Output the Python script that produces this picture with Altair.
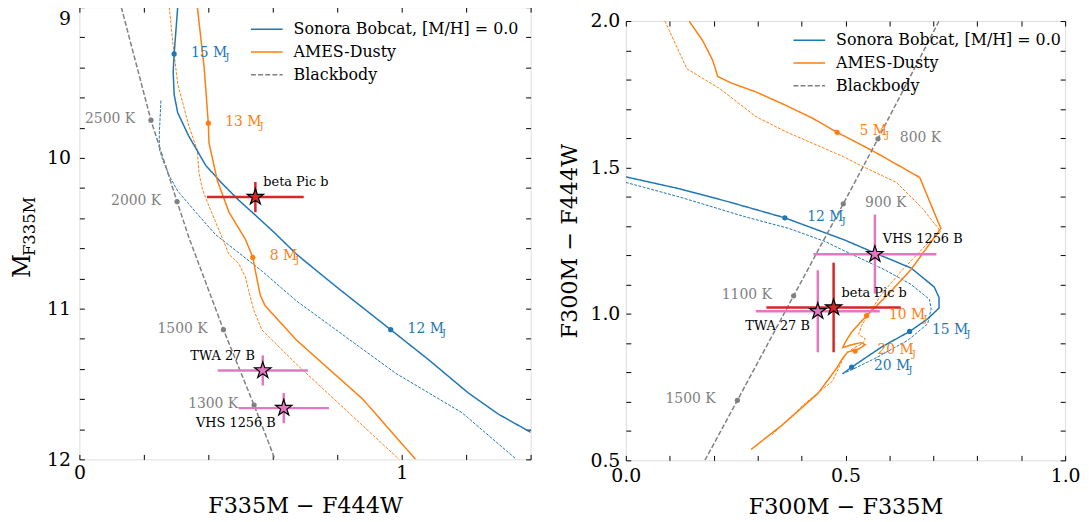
import math
import altair as alt
import pandas as pd

FONT = "DejaVu Serif"
C_SON, C_AMES, C_BB = "#1f77b4", "#ff7f0e", "#808080"
C_RED, C_PINK = "#d62728", "#e377c2"
SON, AMES, BB = "Sonora Bobcat, [M/H] = 0.0", "AMES-Dusty", "Blackbody"
MODELS = [SON, AMES, BB]
COLOR = {SON: C_SON, AMES: C_AMES, BB: C_BB, SON + " alt": C_SON, AMES + " alt": C_AMES}

# ---------------- left panel: F335M - F444W  vs  M_F335M ----------------
L_SON_X = [0.305, 0.294, 0.291, 0.294, 0.305, 0.338, 0.392, 0.443, 0.494, 0.546, 0.607, 0.674, 0.80, 0.966, 1.084, 1.207, 1.30, 1.40]
L_SON_Y = [9.00, 9.31, 9.43, 9.58, 9.70, 9.85, 10.05, 10.17, 10.28, 10.38, 10.50, 10.64, 10.86, 11.14, 11.34, 11.56, 11.70, 11.82]
L_SON2_X = [0.253, 0.248, 0.248, 0.258, 0.279, 0.305, 0.361, 0.423, 0.566, 0.674, 0.982, 1.187, 1.356]
L_SON2_Y = [9.62, 9.84, 9.94, 10.01, 10.12, 10.22, 10.36, 10.51, 10.75, 10.95, 11.43, 11.69, 12.00]
L_AMES_X = [0.366, 0.387, 0.400, 0.402, 0.428, 0.464, 0.515, 0.538, 0.546, 0.561, 0.576, 0.674, 0.879, 1.043]
L_AMES_Y = [9.00, 9.40, 9.77, 9.90, 10.15, 10.36, 10.54, 10.66, 10.75, 10.91, 10.98, 11.21, 11.60, 12.00]
L_AMES2_X = [0.279, 0.289, 0.305, 0.340, 0.366, 0.371, 0.382, 0.402, 0.443, 0.464, 0.494, 0.515, 0.525, 0.541, 0.566, 0.674, 1.002]
L_AMES2_Y = [9.00, 9.22, 9.51, 9.79, 9.95, 10.10, 10.21, 10.32, 10.53, 10.64, 10.70, 10.79, 10.88, 11.01, 11.14, 11.37, 12.02]
L_BB_X = [0.130, 0.222, 0.303, 0.340, 0.447, 0.542, 0.607]
L_BB_Y = [9.00, 9.75, 10.29, 10.53, 11.14, 11.64, 12.00]

L_SON_MASS, L_SON_MX, L_SON_MY = ["15", "12"], [0.294, 0.966], [9.31, 11.14]
L_AMES_MASS, L_AMES_MX, L_AMES_MY = ["13", "8"], [0.400, 0.538], [9.77, 10.66]
L_BB_T, L_BB_TX, L_BB_TY = ["2500 K", "2000 K", "1500 K", "1300 K"], [0.222, 0.303, 0.447, 0.542], [9.75, 10.29, 11.14, 11.64]

OBJ_NAMES = ["beta Pic b", "TWA 27 B", "VHS 1256 B"]
L_OBJ_X, L_OBJ_Y = [0.546, 0.569, 0.634], [10.26, 11.41, 11.66]
L_OBJ_XERR, L_OBJ_YERR = [0.15, 0.14, 0.14], [0.10, 0.10, 0.10]

# ---------------- right panel: F300M - F335M  vs  F300M - F444W ----------------
R_SON_X = [0.0, 0.123, 0.236, 0.362, 0.497, 0.567, 0.649, 0.702, 0.713, 0.713, 0.687, 0.646, 0.582, 0.514, 0.493]
R_SON_Y = [1.468, 1.427, 1.382, 1.328, 1.253, 1.208, 1.157, 1.092, 1.056, 1.020, 0.983, 0.940, 0.887, 0.818, 0.795]
R_SON2_X = [0.0, 0.123, 0.273, 0.371, 0.454, 0.491, 0.589, 0.649, 0.691, 0.695, 0.687, 0.642, 0.567, 0.514, 0.500]
R_SON2_Y = [1.449, 1.399, 1.331, 1.292, 1.247, 1.220, 1.151, 1.101, 1.050, 1.017, 0.966, 0.910, 0.848, 0.809, 0.800]
R_AMES_X = [0.144, 0.175, 0.198, 0.209, 0.239, 0.296, 0.363, 0.424, 0.481, 0.563, 0.669, 0.717, 0.649, 0.597, 0.548, 0.514,
            0.500, 0.494, 0.510, 0.535, 0.545, 0.530, 0.505, 0.494, 0.480, 0.437, 0.357, 0.285]
R_AMES_Y = [2.000, 1.933, 1.865, 1.811, 1.789, 1.758, 1.713, 1.669, 1.620, 1.556, 1.466, 1.292, 1.151, 1.067, 0.994, 0.938,
            0.905, 0.885, 0.893, 0.902, 0.895, 0.880, 0.870, 0.850, 0.815, 0.728, 0.622, 0.537]
R_AMES2_X = [0.089, 0.139, 0.213, 0.296, 0.363, 0.495, 0.529, 0.616, 0.676, 0.717, 0.683, 0.627, 0.582, 0.555, 0.537, 0.530,
             0.545, 0.540, 0.515, 0.499, 0.470, 0.409, 0.333]
R_AMES2_Y = [2.000, 1.837, 1.770, 1.674, 1.623, 1.537, 1.511, 1.449, 1.359, 1.281, 1.235, 1.146, 1.067, 1.005, 0.961, 0.930,
             0.915, 0.900, 0.880, 0.860, 0.770, 0.696, 0.588]
R_BB_X = [0.180, 0.254, 0.382, 0.495, 0.574, 0.713]
R_BB_Y = [0.500, 0.705, 1.062, 1.376, 1.598, 2.000]

R_SON_MASS, R_SON_MX, R_SON_MY = ["12", "15", "20"], [0.362, 0.646, 0.514], [1.328, 0.940, 0.818]
R_AMES_MASS, R_AMES_MX, R_AMES_MY = ["5", "10", "20"], [0.481, 0.548, 0.522], [1.620, 0.994, 0.873]
R_BB_T, R_BB_TX, R_BB_TY = ["800 K", "900 K", "1100 K", "1500 K"], [0.574, 0.495, 0.382, 0.254], [1.598, 1.376, 1.062, 0.705]

R_OBJ_X, R_OBJ_Y = [0.473, 0.437, 0.567], [1.022, 1.009, 1.204]
R_OBJ_XERR, R_OBJ_YERR = [0.153, 0.141, 0.140], [0.153, 0.140, 0.135]

# ---------------- styling ----------------
OBJ_COLOR = {"beta Pic b": C_RED, "TWA 27 B": C_PINK, "VHS 1256 B": C_PINK}
L_OBJ_PLACE = {"beta Pic b": "ur", "TWA 27 B": "ul", "VHS 1256 B": "ll"}
R_OBJ_PLACE = {"beta Pic b": "ur", "TWA 27 B": "ll", "VHS 1256 B": "ur"}
L_BB_SIDE = {"2500 K": "left", "2000 K": "left", "1500 K": "left", "1300 K": "left"}
R_BB_SIDE = {"800 K": "right", "900 K": "right", "1100 K": "left", "1500 K": "left"}
TICK = 5
TICK_FS, TITLE_FS, LEG_FS, ANN_FS, OBJ_FS = 19, 22.5, 16, 14, 13


def star_path(n=5, r_in=0.382):
    pts = []
    for k in range(2 * n):
        r = 1.0 if k % 2 == 0 else r_in
        a = math.pi * k / n - math.pi / 2
        pts.append(f"{r * math.cos(a):.4f},{r * math.sin(a):.4f}")
    return "M" + "L".join(pts) + "Z"


STAR = star_path()


def lines_frame(entries):
    rows = []
    for model, xs, ys in entries:
        for i, (x, y) in enumerate(zip(xs, ys)):
            rows.append({"model": model, "x": x, "y": y, "i": i, "col": COLOR[model]})
    return pd.DataFrame(rows)


def marks_frame(son, ames, bb, bb_side):
    rows = []
    for model, (names, xs, ys) in ((SON, son), (AMES, ames)):
        for n, x, y in zip(names, xs, ys):
            rows.append({"x": x, "y": y, "col": COLOR[model], "kind": "mass", "num": n,
                         "txt": f"{n} M", "side": "right"})
    names, xs, ys = bb
    for n, x, y in zip(names, xs, ys):
        rows.append({"x": x, "y": y, "col": C_BB, "kind": "temp", "num": "", "txt": n, "side": bb_side[n]})
    return pd.DataFrame(rows)


def obj_frame(xs, ys, xerr, yerr, place):
    return pd.DataFrame({
        "name": OBJ_NAMES, "x": xs, "y": ys,
        "xlo": [x - e for x, e in zip(xs, xerr)], "xhi": [x + e for x, e in zip(xs, xerr)],
        "ylo": [y - e for y, e in zip(ys, yerr)], "yhi": [y + e for y, e in zip(ys, yerr)],
        "col": [OBJ_COLOR[n] for n in OBJ_NAMES], "place": [place[n] for n in OBJ_NAMES]})


def make_axis(orient, values, test=None, fmt=None, title=None, label_pad=None, title_pad=None, label_offset=None):
    kw = dict(orient=orient, values=values, tickSize=TICK, offset=-TICK, domain=False, grid=False,
              ticks=True, tickColor="black", tickWidth=1, labelOverlap=False, labelFlush=False)
    if test is not None:
        kw.update(labels=True, labelExpr=f"({test}) ? datum.label : ''", format=fmt, labelFont=FONT,
                  labelFontSize=TICK_FS, labelColor="black", labelPadding=label_pad)
        if label_offset is not None:
            kw["labelOffset"] = label_offset
    else:
        kw.update(labels=False)
    if title is not None:
        kw.update(title=title, titleFont=FONT, titleFontSize=TITLE_FS, titleFontWeight="normal",
                  titleColor="black", titlePadding=title_pad)
    else:
        kw["title"] = None
    return alt.Axis(**kw)


def panel(d):
    xs = alt.Scale(domain=d["xdom"], nice=False, zero=False)
    ys = alt.Scale(domain=d["ydom"], nice=False, zero=False, reverse=d["yrev"])
    xn = alt.X("x:Q", scale=xs, axis=None)
    yn = alt.Y("y:Q", scale=ys, axis=None)
    ident = alt.Color("col:N", scale=None)

    thin = alt.Chart(d["thin"]).mark_line(strokeWidth=1.0, strokeDash=[3, 1.4], clip=True).encode(
        x=xn, y=yn, color=ident, detail="model:N", order="i:Q")

    leg = alt.Legend(title=None, orient="none", legendX=d["legxy"][0], legendY=d["legxy"][1],
                     symbolType="stroke", symbolSize=1024, symbolStrokeWidth=1.5, labelFont=FONT,
                     labelFontSize=LEG_FS, labelColor="black", labelOffset=10, labelLimit=0,
                     clipHeight=22.5, rowPadding=0, padding=0)
    main = alt.Chart(d["main"]).mark_line(clip=True).encode(
        x=alt.X("x:Q", scale=xs, axis=d["ax_bottom"]),
        y=alt.Y("y:Q", scale=ys, axis=d["ax_left"]),
        color=alt.Color("model:N", scale=alt.Scale(domain=MODELS, range=[C_SON, C_AMES, C_BB]), legend=leg),
        strokeDash=alt.StrokeDash("model:N", scale=alt.Scale(domain=MODELS, range=[[1, 0], [1, 0], [5, 2.2]]),
                                  legend=leg),
        strokeWidth=alt.StrokeWidth("model:N", scale=alt.Scale(domain=MODELS, range=[1.5, 1.5, 1.0]), legend=None),
        order="i:Q")

    dots = alt.Chart(d["marks"]).mark_circle(size=28, opacity=1).encode(
        x=alt.X("x:Q", scale=xs, axis=d["ax_top"]), y=alt.Y("y:Q", scale=ys, axis=d["ax_right"]), color=ident)

    layers = [thin, main, dots]

    base_o = alt.Chart(d["obj"])
    layers.append(base_o.mark_rule(strokeWidth=2.5).encode(
        x=alt.X("xlo:Q", scale=xs, axis=None), x2="xhi:Q", y=yn, color=ident))
    layers.append(base_o.mark_rule(strokeWidth=2.5).encode(
        x=xn, y=alt.Y("ylo:Q", scale=ys, axis=None), y2="yhi:Q", color=ident))
    layers.append(base_o.mark_point(shape=STAR, filled=True, size=300, stroke="black", strokeWidth=1.2,
                                    opacity=1, fillOpacity=1).encode(
        x=xn, y=yn, fill=alt.Fill("col:N", scale=None)))

    base_m = alt.Chart(d["marks"])
    dx = d["dx"]
    layers.append(base_m.transform_filter("datum.kind == 'mass'").mark_text(
        align="left", baseline="middle", dx=dx, dy=-1, font=FONT, fontSize=ANN_FS).encode(
        x=xn, y=yn, text="txt:N", color=ident))
    for nd in (1, 2):
        wid = (0.636 * nd + 0.318 + 0.896) * ANN_FS
        layers.append(base_m.transform_filter(f"datum.kind == 'mass' && length(datum.num) == {nd}").mark_text(
            align="left", baseline="middle", dx=dx + wid, dy=3, font=FONT, fontSize=10).encode(
            x=xn, y=yn, text=alt.value("J"), color=ident))
    layers.append(base_m.transform_filter("datum.kind == 'temp' && datum.side == 'left'").mark_text(
        align="right", baseline="middle", dx=-d["dxt"], dy=-1, font=FONT, fontSize=ANN_FS).encode(
        x=xn, y=yn, text="txt:N", color=ident))
    layers.append(base_m.transform_filter("datum.kind == 'temp' && datum.side == 'right'").mark_text(
        align="left", baseline="middle", dx=d["dxt"], dy=-1, font=FONT, fontSize=ANN_FS).encode(
        x=xn, y=yn, text="txt:N", color=ident))

    for place, align, ddx, ddy in (("ur", "left", 8, -15), ("ul", "right", -8, -15), ("ll", "right", -8, 15)):
        layers.append(base_o.transform_filter(f"datum.place == '{place}'").mark_text(
            align=align, baseline="middle", dx=ddx, dy=ddy, font=FONT, fontSize=OBJ_FS, color="black").encode(
            x=xn, y=yn, text="name:N"))
    layers += d.get("extra", [])
    return alt.layer(*layers).resolve_axis(x="independent", y="independent").properties(
        width=d["w"], height=d["h"])


def ticks(lo, hi, step):
    n = int(round((hi - lo) / step))
    return [round(lo + k * step, 3) for k in range(n + 1)]


INT_TEST = "abs(datum.value - round(datum.value)) < 1e-6"
HALF_TEST = "abs(datum.value * 2 - round(datum.value * 2)) < 1e-6"

one = pd.DataFrame({"t": [0]})
left_extra = [
    alt.Chart(one).mark_text(text="M", font=FONT, fontSize=23.5, angle=270, align="center",
                             baseline="alphabetic", color="black").encode(x=alt.value(-50), y=alt.value(261)),
    alt.Chart(one).mark_text(text="F335M", font=FONT, fontSize=16.5, angle=270, align="center",
                             baseline="alphabetic", color="black").encode(x=alt.value(-45), y=alt.value(221)),
]

top_label_shift = {"condition": {"test": "datum.value == 9", "value": 11}, "value": 0}

left = panel(dict(
    xdom=[0, 1.4], ydom=[9, 12], yrev=True, w=455, h=456, legxy=(172, 11), dx=17, dxt=16,
    thin=lines_frame([(SON + " alt", L_SON2_X, L_SON2_Y), (AMES + " alt", L_AMES2_X, L_AMES2_Y)]),
    main=lines_frame([(SON, L_SON_X, L_SON_Y), (AMES, L_AMES_X, L_AMES_Y), (BB, L_BB_X, L_BB_Y)]),
    marks=marks_frame((L_SON_MASS, L_SON_MX, L_SON_MY), (L_AMES_MASS, L_AMES_MX, L_AMES_MY),
                      (L_BB_T, L_BB_TX, L_BB_TY), L_BB_SIDE),
    obj=obj_frame(L_OBJ_X, L_OBJ_Y, L_OBJ_XERR, L_OBJ_YERR, L_OBJ_PLACE),
    ax_bottom=make_axis("bottom", ticks(0, 1.4, 0.2), INT_TEST, ".0f", "F335M − F444W", 4, 13),
    ax_left=make_axis("left", ticks(9, 12, 0.2), INT_TEST, ".0f", None, 9, label_offset=top_label_shift),
    ax_top=make_axis("top", ticks(0, 1.4, 0.2)),
    ax_right=make_axis("right", ticks(9, 12, 0.2)),
    extra=left_extra,
))

right = panel(dict(
    xdom=[0, 1.0], ydom=[0.5, 2.0], yrev=False, w=443, h=443, legxy=(168, 8), dx=22.5, dxt=22,
    thin=lines_frame([(SON + " alt", R_SON2_X, R_SON2_Y), (AMES + " alt", R_AMES2_X, R_AMES2_Y)]),
    main=lines_frame([(SON, R_SON_X, R_SON_Y), (AMES, R_AMES_X, R_AMES_Y), (BB, R_BB_X, R_BB_Y)]),
    marks=marks_frame((R_SON_MASS, R_SON_MX, R_SON_MY), (R_AMES_MASS, R_AMES_MX, R_AMES_MY),
                      (R_BB_T, R_BB_TX, R_BB_TY), R_BB_SIDE),
    obj=obj_frame(R_OBJ_X, R_OBJ_Y, R_OBJ_XERR, R_OBJ_YERR, R_OBJ_PLACE),
    ax_bottom=make_axis("bottom", ticks(0, 1.0, 0.1), HALF_TEST, ".1f", "F300M − F335M", 6, 11),
    ax_left=make_axis("left", ticks(0.5, 2.0, 0.1), HALF_TEST, ".1f", "F300M − F444W", 6, 9),
    ax_top=make_axis("top", ticks(0, 1.0, 0.1)),
    ax_right=make_axis("right", ticks(0.5, 2.0, 0.1)),
))

spacer = alt.Chart(one).mark_point(opacity=0).encode(x=alt.value(0), y=alt.value(0)).properties(
    width=443, height=14, view=alt.ViewBackground(strokeOpacity=0))

indep = dict(color="independent", strokeDash="independent", strokeWidth="independent")
right_col = alt.vconcat(spacer, right, spacing=0, bounds="flush").resolve_scale(**indep)

chart = alt.hconcat(left, right_col, spacing=96, bounds="flush").resolve_scale(**indep).properties(
    padding={"left": 2, "top": -6, "right": 0, "bottom": 0}
).configure_view(stroke="black", strokeWidth=1.2).configure(font=FONT)

chart.save("out.html", embed_options={"renderer": "svg", "actions": False})
